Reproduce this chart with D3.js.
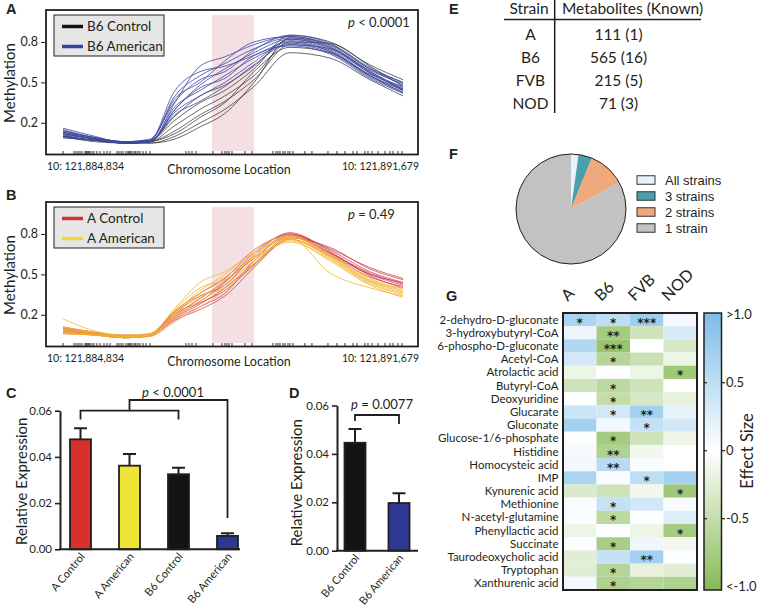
<!DOCTYPE html>
<html>
<head>
<meta charset="utf-8">
<script src="https://cdn.jsdelivr.net/npm/d3@7"></script>
<style>
body { margin: 0; background: #fff; }
svg { display: block; font-family: Lato, 'Open Sans', sans-serif; }
text { fill: #231f20; }
</style>
</head>
<body>
<svg id="fig" width="757" height="607"></svg>
<script>
// ---- data ----
let chrStart = 121884834
let chrEnd = 121891679
let dmrRange = [121887834, 121888679]
// genomic offsets (bp from chrStart) where the methylation curves were sampled
let sampleOffsets = [0, 640, 1250, 1750, 2255, 2760, 3260, 3845, 4570, 5375, 6180, 6845]
// CpG sites shown as a rug under the curves
let cpgOffsets = [0, 221, 262, 302, 342, 382, 443, 463, 483, 503, 523, 544, 584, 624, 684, 745, 825, 886, 946,
  1087, 1127, 1168, 1208, 1268, 1308, 1329, 1349, 1369, 1409, 1449, 1469, 1510, 1550, 1610, 1671, 1751,
  2476, 2536, 2597, 2677, 3020, 3201, 3261, 3301, 3342, 3402, 3664, 3805, 4227, 4288, 4328, 4368, 4429,
  4469, 4529, 4570, 4630, 4871, 5012, 5334, 5515, 5676, 5838, 5918, 6079, 6140, 6220, 6341, 6482, 6583,
  6643, 6744, 6824]
let methTicks = [0.2, 0.5, 0.8]

let b6Control = [
  [0.10, 0.07, 0.05, 0.05, 0.10, 0.20, 0.30, 0.47, 0.72, 0.68, 0.52, 0.40],
  [0.12, 0.08, 0.05, 0.06, 0.14, 0.26, 0.36, 0.52, 0.78, 0.75, 0.58, 0.44],
  [0.09, 0.07, 0.05, 0.06, 0.18, 0.30, 0.40, 0.55, 0.80, 0.79, 0.62, 0.47],
  [0.13, 0.08, 0.05, 0.05, 0.08, 0.17, 0.27, 0.50, 0.83, 0.78, 0.60, 0.50],
  [0.11, 0.07, 0.06, 0.07, 0.22, 0.35, 0.44, 0.60, 0.85, 0.80, 0.63, 0.52],
  [0.10, 0.06, 0.05, 0.06, 0.12, 0.24, 0.35, 0.58, 0.76, 0.72, 0.55, 0.42],
  [0.14, 0.09, 0.06, 0.07, 0.25, 0.40, 0.48, 0.62, 0.82, 0.76, 0.57, 0.45]
]
let b6American = [
  [0.16, 0.10, 0.05, 0.06, 0.35, 0.62, 0.69, 0.78, 0.84, 0.78, 0.60, 0.48],
  [0.14, 0.09, 0.06, 0.07, 0.40, 0.55, 0.64, 0.75, 0.83, 0.76, 0.58, 0.46],
  [0.12, 0.08, 0.05, 0.06, 0.30, 0.48, 0.60, 0.72, 0.82, 0.75, 0.57, 0.45],
  [0.10, 0.07, 0.05, 0.07, 0.44, 0.58, 0.62, 0.70, 0.80, 0.73, 0.55, 0.44],
  [0.13, 0.09, 0.06, 0.06, 0.32, 0.44, 0.55, 0.68, 0.78, 0.72, 0.54, 0.43],
  [0.11, 0.08, 0.05, 0.06, 0.28, 0.40, 0.50, 0.65, 0.81, 0.74, 0.56, 0.47],
  [0.15, 0.09, 0.06, 0.08, 0.36, 0.52, 0.58, 0.74, 0.85, 0.79, 0.61, 0.50],
  [0.09, 0.07, 0.05, 0.06, 0.26, 0.36, 0.47, 0.63, 0.79, 0.73, 0.55, 0.45],
  [0.12, 0.08, 0.05, 0.07, 0.38, 0.50, 0.66, 0.80, 0.84, 0.77, 0.59, 0.49],
  [0.10, 0.07, 0.06, 0.06, 0.30, 0.46, 0.53, 0.70, 0.77, 0.71, 0.53, 0.42]
]
let aControl = [
  [0.08, 0.06, 0.04, 0.05, 0.20, 0.32, 0.45, 0.62, 0.80, 0.68, 0.52, 0.44],
  [0.10, 0.07, 0.04, 0.05, 0.18, 0.28, 0.40, 0.58, 0.78, 0.66, 0.50, 0.42],
  [0.06, 0.05, 0.03, 0.04, 0.16, 0.24, 0.34, 0.55, 0.77, 0.70, 0.54, 0.46],
  [0.09, 0.06, 0.04, 0.05, 0.22, 0.34, 0.42, 0.64, 0.81, 0.67, 0.49, 0.40],
  [0.07, 0.05, 0.03, 0.05, 0.17, 0.26, 0.36, 0.60, 0.79, 0.69, 0.55, 0.47],
  [0.11, 0.07, 0.04, 0.06, 0.21, 0.30, 0.44, 0.66, 0.80, 0.66, 0.51, 0.43],
  [0.08, 0.06, 0.04, 0.05, 0.19, 0.29, 0.38, 0.57, 0.76, 0.64, 0.48, 0.41],
  [0.10, 0.06, 0.05, 0.05, 0.23, 0.36, 0.47, 0.68, 0.79, 0.65, 0.50, 0.44]
]
let aAmerican = [
  [0.17, 0.08, 0.05, 0.06, 0.25, 0.44, 0.52, 0.66, 0.77, 0.51, 0.40, 0.34],
  [0.09, 0.06, 0.04, 0.05, 0.20, 0.36, 0.48, 0.63, 0.78, 0.63, 0.45, 0.37],
  [0.07, 0.05, 0.03, 0.05, 0.18, 0.30, 0.42, 0.60, 0.76, 0.62, 0.44, 0.36],
  [0.10, 0.07, 0.04, 0.05, 0.22, 0.38, 0.50, 0.68, 0.79, 0.65, 0.47, 0.39],
  [0.08, 0.05, 0.03, 0.04, 0.15, 0.26, 0.38, 0.56, 0.75, 0.60, 0.42, 0.33],
  [0.11, 0.07, 0.04, 0.06, 0.24, 0.40, 0.46, 0.62, 0.74, 0.61, 0.43, 0.35],
  [0.06, 0.05, 0.04, 0.05, 0.19, 0.33, 0.44, 0.64, 0.78, 0.64, 0.46, 0.38],
  [0.09, 0.06, 0.04, 0.05, 0.21, 0.34, 0.40, 0.58, 0.76, 0.63, 0.45, 0.40]
]

let groupsC = ['A Control', 'A American', 'B6 Control', 'B6 American']
let meansC = [0.0476, 0.0362, 0.0325, 0.0058]
let errC = [0.0048, 0.0051, 0.0028, 0.0011]
let groupsD = ['B6 Control', 'B6 American']
let meansD = [0.0446, 0.0197]
let errD = [0.0057, 0.0040]
let exprTicks = [0, 0.02, 0.04, 0.06]

let tableStrains = ['A', 'B6', 'FVB', 'NOD']
let tableCounts = ['111 (1)', '565 (16)', '215 (5)', '71 (3)']

let pieLabels = ['All strains', '3 strains', '2 strains', '1 strain']
let pieShares = [2.2, 4.0, 10.8, 83.0]

let strains = ['A', 'B6', 'FVB', 'NOD']
let metabolites = ['2-dehydro-D-gluconate', '3-hydroxybutyryl-CoA', '6-phospho-D-gluconate', 'Acetyl-CoA',
  'Atrolactic acid', 'Butyryl-CoA', 'Deoxyuridine', 'Glucarate', 'Gluconate', 'Glucose-1/6-phosphate',
  'Histidine', 'Homocysteic acid', 'IMP', 'Kynurenic acid', 'Methionine', 'N-acetyl-glutamine',
  'Phenyllactic acid', 'Succinate', 'Taurodeoxycholic acid', 'Tryptophan', 'Xanthurenic acid']
let effectA = [0.65, 0.15, 0.6, 0.35, -0.15, -0.4, 0.02, 0.4, 0.7, 0.03, 0.08, 0.1, 0.65, -0.3, 0.05, 0.05, -0.15, 0.02, -0.25, -0.25, 0.1]
let effectB6 = [0.5, -0.75, -0.85, -0.6, 0.02, -0.55, -0.5, 0.35, 0.1, -0.75, -0.65, 0.55, 0.05, -0.4, 0.45, -0.55, 0.02, -0.7, 0.45, -0.6, -0.65]
let effectFVB = [0.75, -0.4, 0, -0.45, -0.15, -0.4, -0.35, 0.7, 0.45, -0.4, -0.1, 0.05, 0.5, -0.1, 0.35, 0.02, -0.15, 0.12, 0.7, -0.2, -0.6]
let effectNOD = [0.1, 0.3, -0.35, -0.15, -0.8, 0, -0.2, 0.2, 0.35, -0.15, 0, 0, 0.7, -0.8, 0.05, 0.25, -0.75, -0.1, 0.03, -0.25, -0.65]
let starsA = ['*', '', '', '', '', '', '', '', '', '', '', '', '', '', '', '', '', '', '', '', '']
let starsB6 = ['*', '**', '***', '*', '', '*', '*', '*', '', '*', '**', '**', '', '', '*', '*', '', '*', '', '*', '*']
let starsFVB = ['***', '', '', '', '', '', '', '**', '*', '', '', '', '*', '', '', '', '', '', '**', '', '']
let starsNOD = ['', '', '', '', '*', '', '', '', '', '', '', '', '', '*', '', '', '*', '', '', '', '']
let effectTicks = [1, 0.5, 0, -0.5, -1]
let effectTickLabels = ['>1.0', '0.5', '0', '-0.5', '<-1.0']

// ---- drawing ----
let svg = d3.select('#fig')
let arial = "'Liberation Sans', Arial, sans-serif"

let panelLetter = (txt, x, y) => {
    svg.append('text').text(txt)
       .attr('x', x).attr('y', y)
       .style('font-family', arial)
       .style('font-weight', 'bold')
       .style('font-size', '14.5px')
}

let drawMethPanel = (top, ctrl, amer, ctrlColor, amerColor, names, pSymbol, pValue) => {
    let x = d3.scaleLinear().domain([0, chrEnd - chrStart]).range([63, 403])
    let y = d3.scaleLinear().domain([-0.035, 1.037]).range([top + 144.5, top])
    let g = svg.append('g')

    g.append('rect')
     .attr('x', x(dmrRange[0] - chrStart))
     .attr('y', top + 5)
     .attr('width', x(dmrRange[1] - chrStart) - x(dmrRange[0] - chrStart))
     .attr('height', 136)
     .attr('fill', '#f4e0e3')

    let line = d3.line()
                 .x((d, i) => x(sampleOffsets[i]))
                 .y(d => y(d))
                 .curve(d3.curveMonotoneX)

    g.selectAll('.ctrl').data(ctrl).enter().append('path')
     .attr('d', line).attr('fill', 'none')
     .attr('stroke', ctrlColor.line).attr('stroke-width', 1)
     .attr('stroke-opacity', ctrlColor.op)
    g.selectAll('.amer').data(amer).enter().append('path')
     .attr('d', line).attr('fill', 'none')
     .attr('stroke', amerColor.line).attr('stroke-width', 1)
     .attr('stroke-opacity', amerColor.op)

    g.selectAll('.cpg').data(cpgOffsets).enter().append('line')
     .attr('x1', d => x(d)).attr('x2', d => x(d))
     .attr('y1', top + 141).attr('y2', top + 144.5)
     .attr('stroke', '#222').attr('stroke-width', 0.9)

    g.append('rect')
     .attr('x', 46).attr('y', top).attr('width', 372).attr('height', 144.5)
     .attr('fill', 'none').attr('stroke', '#231f20').attr('stroke-width', 1.8)

    let yAxis = d3.axisLeft(y).tickValues(methTicks).tickSize(4).tickFormat(d3.format('.1f'))
    let ax = g.append('g').attr('transform', 'translate(45,0)').call(yAxis)
    ax.select('.domain').remove()
    ax.selectAll('line').attr('stroke', '#231f20')
    ax.selectAll('text').style('font-size', '12.5px').style('font-family', 'Lato, sans-serif').attr('fill', '#231f20')

    g.append('text').text('Methylation')
     .attr('transform', 'translate(15,' + (top + 73) + ') rotate(-90)')
     .attr('text-anchor', 'middle')
     .style('font-size', '15px')

    // legend
    g.append('rect').attr('x', 54).attr('y', top + 5).attr('width', 110).attr('height', 41)
     .attr('fill', '#e6e6e6').attr('stroke', '#231f20').attr('stroke-width', 1)
    let lg = [ctrlColor.legend, amerColor.legend]
    names.forEach((n, i) => {
        let ly = top + 16.5 + i * 20
        g.append('line').attr('x1', 62).attr('x2', 83).attr('y1', ly).attr('y2', ly)
         .attr('stroke', lg[i]).attr('stroke-width', 3.5)
        g.append('text').text(n).attr('x', 87).attr('y', ly + 4.5).style('font-size', '13.5px')
    })

    let pt = g.append('text').attr('x', 348).attr('y', top + 17).style('font-size', '13px')
    pt.append('tspan').text('p').style('font-style', 'italic')
    pt.append('tspan').text(' ' + pSymbol + ' ' + pValue)

    g.append('text').text('10: ' + d3.format(',')(chrStart))
     .attr('x', 47).attr('y', top + 159.5).style('font-size', '10.5px')
    g.append('text').text('10: ' + d3.format(',')(chrEnd))
     .attr('x', 419).attr('y', top + 159.5).attr('text-anchor', 'end').style('font-size', '10.5px')
    g.append('text').text('Chromosome Location')
     .attr('x', 229).attr('y', top + 164).attr('text-anchor', 'middle').style('font-size', '12.5px')
}

let drawBars = (groups, means, errs, colors, xLeft, xRight, centers, y0, y6, labelX) => {
    let y = d3.scaleLinear().domain([0, 0.06]).range([y0, y6])
    let x = d3.scalePoint().domain(groups).range(centers)
    let g = svg.append('g')
    let bw = 21

    g.selectAll('.err').data(groups).enter().append('path')
     .attr('d', (d, i) => {
        let cx = x(d), t = y(means[i] + errs[i])
        return 'M' + cx + ',' + y(means[i]) + 'V' + t + 'M' + (cx - 6.5) + ',' + t + 'H' + (cx + 6.5)
     })
     .attr('stroke', '#231f20').attr('stroke-width', 2).attr('fill', 'none')

    g.selectAll('.bar').data(groups).enter().append('rect')
     .attr('x', d => x(d) - bw / 2)
     .attr('y', (d, i) => y(means[i]))
     .attr('width', bw)
     .attr('height', (d, i) => y0 - y(means[i]))
     .attr('fill', (d, i) => colors[i])
     .attr('stroke', '#231f20').attr('stroke-width', 1.8)

    let yAxis = d3.axisLeft(y).tickValues(exprTicks).tickSize(5).tickSizeOuter(0).tickFormat(d3.format('.2f'))
    let ax = g.append('g').attr('transform', 'translate(' + xLeft + ',0)').call(yAxis)
    ax.select('.domain').attr('stroke', '#231f20').attr('stroke-width', 2)
    ax.selectAll('.tick line').attr('stroke', '#231f20').attr('stroke-width', 1.6)
    ax.selectAll('text').style('font-size', '11.5px').style('font-family', 'Lato, sans-serif').attr('fill', '#231f20')

    g.append('line').attr('x1', xLeft - 1).attr('x2', xRight).attr('y1', y0).attr('y2', y0)
     .attr('stroke', '#231f20').attr('stroke-width', 2)

    g.selectAll('.xl').data(groups).enter().append('text')
     .text(d => d)
     .attr('text-anchor', 'end')
     .attr('transform', d => 'translate(' + (x(d) + 5) + ',' + (y0 + 7.5) + ') rotate(-50)')
     .style('font-size', '11px')

    g.append('text').text('Relative Expression')
     .attr('transform', 'translate(' + labelX + ',' + (y0 - 68) + ') rotate(-90)')
     .attr('text-anchor', 'middle')
     .style('font-size', '15px')
    return {x: x, y: y}
}

let bracketPath = (pts) => 'M' + pts.map(p => p.join(',')).join('L')

let drawPanelC = () => {
    let s = drawBars(groupsC, meansC, errC, ['#d8312c', '#eee636', '#141414', '#2d3990'],
                     60, 240, [80.5, 227.5], 549.3, 410.7, 27)
    let xa = s.x('A Control'), xc = s.x('B6 Control'), xd = s.x('B6 American')
    let mid = (xa + xc) / 2
    svg.append('path').attr('d', bracketPath([[xa, 419.5], [xa, 410.7], [xc, 410.7], [xc, 419.5]]))
       .attr('fill', 'none').attr('stroke', '#231f20').attr('stroke-width', 1.8)
    svg.append('path').attr('d', bracketPath([[mid, 410.7], [mid, 400], [xd, 400], [xd, 518]]))
       .attr('fill', 'none').attr('stroke', '#231f20').attr('stroke-width', 1.8)
    let pt = svg.append('text').attr('x', 173).attr('y', 397).attr('text-anchor', 'middle').style('font-size', '13px')
    pt.append('tspan').text('p').style('font-style', 'italic')
    pt.append('tspan').text(' < 0.0001')
}

let drawPanelD = () => {
    let s = drawBars(groupsD, meansD, errD, ['#141414', '#2d3990'],
                     337, 418, [355, 399], 550.7, 405.5, 302)
    let xa = s.x('B6 Control'), xb = s.x('B6 American')
    svg.append('path').attr('d', bracketPath([[xa, 421], [xa, 415], [xb, 415], [xb, 424]]))
       .attr('fill', 'none').attr('stroke', '#231f20').attr('stroke-width', 1.8)
    let pt = svg.append('text').attr('x', 382).attr('y', 409).attr('text-anchor', 'middle').style('font-size', '13px')
    pt.append('tspan').text('p').style('font-style', 'italic')
    pt.append('tspan').text(' = 0.0077')
}

let drawTable = () => {
    let g = svg.append('g')
    g.append('text').text('Strain').attr('x', 529).attr('y', 14).attr('text-anchor', 'middle').style('font-size', '15.5px')
    g.append('text').text('Metabolites (Known)').attr('x', 632.5).attr('y', 14).attr('text-anchor', 'middle').style('font-size', '15.5px')
    g.append('line').attr('x1', 504).attr('x2', 701).attr('y1', 19.5).attr('y2', 19.5).attr('stroke', '#231f20').attr('stroke-width', 1.5)
    g.append('line').attr('x1', 554.7).attr('x2', 554.7).attr('y1', 0).attr('y2', 113).attr('stroke', '#231f20').attr('stroke-width', 1.5)
    let rowY = d3.scalePoint().domain(tableStrains).range([40, 108.5])
    g.selectAll('.st').data(tableStrains).enter().append('text')
     .text(d => d).attr('x', 530.5).attr('y', d => rowY(d)).attr('text-anchor', 'middle').style('font-size', '15.5px')
    g.selectAll('.ct').data(tableStrains).enter().append('text')
     .text((d, i) => tableCounts[i]).attr('x', 618.5).attr('y', d => rowY(d)).attr('text-anchor', 'middle').style('font-size', '15.5px')
}

let drawPie = () => {
    let colors = ['#e7f3f9', '#4b9eaa', '#eeaa7c', '#c2c2c2']
    let arcs = d3.pie().sort(null)(pieShares)
    let arc = d3.arc().innerRadius(0).outerRadius(55)
    let g = svg.append('g').attr('transform', 'translate(571,209)')
    g.selectAll('path').data(arcs).enter().append('path')
     .attr('d', arc).attr('fill', (d, i) => colors[i])
     .attr('stroke', 'none')
    g.append('circle').attr('r', 55).attr('fill', 'none').attr('stroke', '#231f20').attr('stroke-width', 1)

    let ly = d3.scalePoint().domain(pieLabels).range([180, 228])
    svg.selectAll('.pl').data(pieLabels).enter().append('rect')
       .attr('x', 637).attr('y', d => ly(d) - 4.25).attr('width', 18).attr('height', 8.5)
       .attr('fill', (d, i) => colors[i]).attr('stroke', '#333').attr('stroke-width', 1)
    svg.selectAll('.pt').data(pieLabels).enter().append('text')
       .text(d => d).attr('x', 665).attr('y', d => ly(d) + 4.5)
       .style('font-family', arial).style('font-size', '13px')
}

let drawHeatmap = () => {
    let cols = [effectA, effectB6, effectFVB, effectNOD]
    let stars = [starsA, starsB6, starsFVB, starsNOD]
    let x = d3.scaleBand().domain(strains).range([563, 697])
    let y = d3.scaleBand().domain(metabolites).range([313, 590])
    let color = d3.scaleLinear().domain([-1, 0, 1]).range(['#86b955', '#ffffff', '#7dbde8']).clamp(true)
    let g = svg.append('g')

    let cells = []
    strains.forEach((s, j) => metabolites.forEach((m, i) => cells.push({s: s, m: m, v: cols[j][i], st: stars[j][i]})))

    g.selectAll('.cell').data(cells).enter().append('rect')
     .attr('x', d => x(d.s)).attr('y', d => y(d.m))
     .attr('width', x.bandwidth()).attr('height', y.bandwidth())
     .attr('fill', d => color(d.v))
    g.selectAll('.star').data(cells.filter(d => d.st)).enter().append('text')
     .text(d => d.st)
     .attr('x', d => x(d.s) + x.bandwidth() / 2)
     .attr('y', d => y(d.m) + y.bandwidth() / 2 + 7)
     .attr('text-anchor', 'middle')
     .style('font-family', "'DejaVu Sans', sans-serif")
     .style('font-size', '12px').style('font-weight', 'bold')
    g.append('rect').attr('x', 563).attr('y', 313).attr('width', 134).attr('height', 277)
     .attr('fill', 'none').attr('stroke', '#231f20').attr('stroke-width', 2)

    g.selectAll('.rl').data(metabolites).enter().append('text')
     .text(d => d).attr('x', 558.5).attr('y', d => y(d) + y.bandwidth() / 2 + 4)
     .attr('text-anchor', 'end').style('font-size', '11.5px')

    g.selectAll('.cl').data(strains).enter().append('text')
     .text(d => d).attr('text-anchor', 'start')
     .attr('transform', d => 'translate(' + (x(d) + x.bandwidth() / 2 - 12) + ',302) rotate(-45)')
     .style('font-size', '16px')

    // colour bar
    let cy = d3.scaleLinear().domain([1, -1]).range([314.7, 586.7])
    let grad = svg.append('defs').append('linearGradient').attr('id', 'cbar')
                  .attr('x1', 0).attr('x2', 0).attr('y1', 0).attr('y2', 1)
    ;[1, 0.5, 0, -0.5, -1].forEach(v => {
        grad.append('stop').attr('offset', (1 - v) / 2).attr('stop-color', color(v))
    })
    g.append('rect').attr('x', 704).attr('y', 313).attr('width', 17.5).attr('height', 277)
     .attr('fill', 'url(#cbar)').attr('stroke', '#231f20').attr('stroke-width', 1.5)
    let inner = effectTicks.slice(1, 4)
    g.selectAll('.tk1').data(inner).enter().append('line')
     .attr('x1', 704).attr('x2', 707).attr('y1', d => cy(d)).attr('y2', d => cy(d))
     .attr('stroke', '#231f20').attr('stroke-width', 1.2)
    g.selectAll('.tk2').data(inner).enter().append('line')
     .attr('x1', 721.5).attr('x2', 725).attr('y1', d => cy(d)).attr('y2', d => cy(d))
     .attr('stroke', '#231f20').attr('stroke-width', 1.2)
    g.selectAll('.tl').data(effectTicks).enter().append('text')
     .text((d, i) => effectTickLabels[i])
     .attr('x', 726).attr('y', d => cy(d) + 4.5)
     .style('font-size', '13px')
    g.append('text').text('Effect Size')
     .attr('transform', 'translate(753,451) rotate(-90)')
     .attr('text-anchor', 'middle').style('font-size', '16.5px')
}

drawMethPanel(10, b6Control, b6American,
    {line: '#2b2b2b', op: 0.7, legend: '#111'}, {line: '#3d48a3', op: 0.8, legend: '#3a439c'},
    ['B6 Control', 'B6 American'], '<', '0.0001')
drawMethPanel(202, aControl, aAmerican,
    {line: '#cc3042', op: 0.7, legend: '#d2313a'}, {line: '#f2b42c', op: 0.8, legend: '#f0d63c'},
    ['A Control', 'A American'], '=', '0.49')
drawPanelC()
drawPanelD()
drawTable()
drawPie()
drawHeatmap()

panelLetter('A', 6, 14)
panelLetter('B', 6, 200)
panelLetter('C', 6, 398)
panelLetter('D', 289, 398)
panelLetter('E', 449, 14)
panelLetter('F', 449, 159)
panelLetter('G', 446, 301)
</script>
</body>
</html>
